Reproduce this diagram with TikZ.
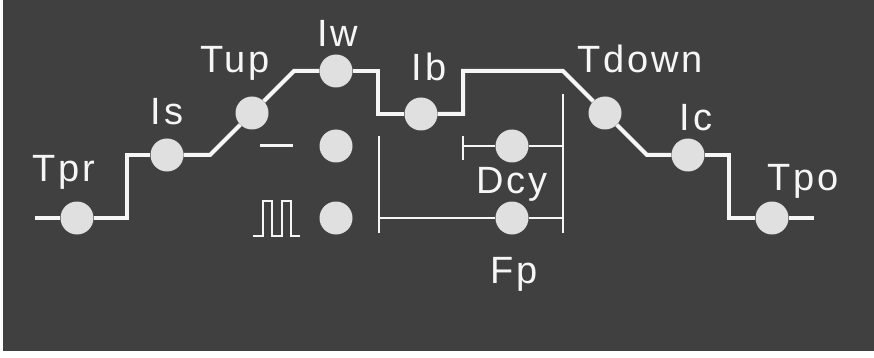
\documentclass[tikz,border=0pt]{standalone}
\usepackage{fontspec}
\setmainfont{Liberation Sans}
\newfontfamily\stagefont[LetterSpace=7]{Liberation Sans}
\usepackage{xcolor}
\usepackage{tikz}
\usetikzlibrary{positioning, calc}
\definecolor{slate}{RGB}{64, 64, 64}
\definecolor{bead}{RGB}{224, 224, 224}
\definecolor{wirewhite}{RGB}{246, 246, 246}

\begin{document}
\begin{tikzpicture}[
    x=1pt, y=-1pt,
    stage/.style={circle, fill=bead, inner sep=0pt, minimum size=33pt},
    wire/.style={wirewhite, line width=4pt},
    thinwire/.style={wirewhite, line width=1.8pt},
    lbl/.style={text=wirewhite, anchor=base, inner sep=0pt, font=\stagefont\fontsize{38}{40}\selectfont}
]
    \useasboundingbox (0,0) rectangle (874,358);
    \fill[white] (0,0) rectangle (874,358);
    \fill[slate] (3,0) rectangle (874,351);

    % Welding stages along the current profile
    \node[stage] (tpr)   at (77,218)  {};
    \node[stage] (is)    at (167,155) {};
    \node[stage] (tup)   at (252,113) {};
    \node[stage] (iw)    at (336,71)  {};
    \node[stage] (ib)    at (421,114) {};
    \node[stage] (tdown) at (605,113) {};
    \node[stage] (ic)    at (688,155) {};
    \node[stage] (tpo)   at (772,218) {};

    % Welding mode selectors
    \node[stage] (dcmode)    at (336,146) {};
    \node[stage] (pulsemode) at (336,218) {};
    \node[stage] (dcy)       at (512,146) {};
    \node[stage] (fp)        at (512,218) {};

    % Bends of the profile
    \coordinate (lead)  at (35,218);
    \coordinate (b1)    at (127,218);
    \coordinate (b2)    at (210,155);
    \coordinate (b3)    at (294,71);
    \coordinate (b4)    at (378,71);
    \coordinate (b5)    at (463,114);
    \coordinate (b6)    at (563,71);
    \coordinate (b7)    at (647,155);
    \coordinate (b8)    at (729,155);
    \coordinate (trail) at (814,218);

    % Current profile
    \draw[wire] (lead) -- (tpr.west);
    \draw[wire] (tpr.east) -- (b1) |- (is.west);
    \draw[wire] (is.east) -- (b2) -- (tup.south west);
    \draw[wire] (tup.north east) -- (b3) -- (iw.west);
    \draw[wire] (iw.east) -- (b4) |- (ib.west);
    \draw[wire] (ib.east) -- (b5) |- (b6) -- (tdown.north west);
    \draw[wire] (tdown.south east) -- (b7) -- (ic.west);
    \draw[wire] (ic.east) -- (b8) |- (tpo.west);
    \draw[wire] (tpo.east) -- (trail);

    % DC and pulse symbols
    \draw[wirewhite, line width=3pt] (260,146) -- (293,146);
    \draw[wirewhite, line width=2.2pt] (253,236) -- (263,236) -- (263,201) -- (272,201) -- (272,236)
        -- (282,236) -- (282,201) -- (291,201) -- (291,236) -- (300,236);

    % Pulse settings bracket
    \coordinate (fpleft)   at (379,218);
    \coordinate (fpright)  at (563,218);
    \coordinate (dcyleft)  at (463,146);
    \coordinate (dcyright) at (563,146);
    \draw[thinwire] (379,136) -- (379,233);
    \draw[thinwire] (563,94) -- (563,233);
    \draw[thinwire] (463,136) -- (463,160);
    \draw[thinwire] (fpleft) -- (fp.west);
    \draw[thinwire] (fp.east) -- (fpright);
    \draw[thinwire] (dcyleft) -- (dcy.west);
    \draw[thinwire] (dcy.east) -- (dcyright);

    % Labels
    \node[lbl] (tprlbl)   at (64,182)  {Tpr};
    \node[lbl] (islbl)    at (167,125) {Is};
    \node[lbl] (tuplbl)   at (235,73)  {Tup};
    \node[lbl] (iwlbl)    at (338,47)  {Iw};
    \node[lbl] (iblbl)    at (429,81)  {Ib};
    \node[lbl] (tdownlbl) at (640,73)  {Tdown};
    \node[lbl] (iclbl)    at (696,131) {Ic};
    \node[lbl] (tpolbl)   at (803,190) {Tpo};
    \node[lbl] (dcylbl)   at (512,193) {Dcy};
    \node[lbl] (fplbl)    at (514,283) {Fp};
\end{tikzpicture}
\end{document}
